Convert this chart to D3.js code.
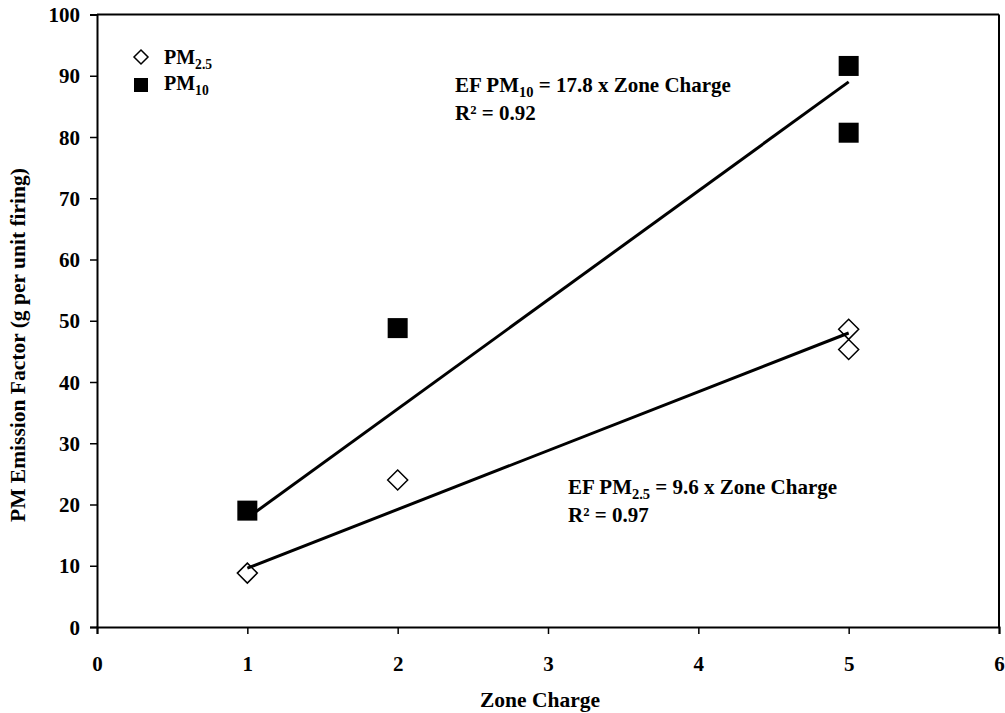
<!DOCTYPE html>
<html>
<head>
<meta charset="utf-8">
<script src="https://cdn.jsdelivr.net/npm/d3@7"></script>
<style>
  html, body { margin: 0; padding: 0; background: #fff; }
  svg text { font-family: "Liberation Serif", "Times New Roman", serif; font-weight: bold; fill: #000; }
</style>
</head>
<body>
<svg id="chart" width="1005" height="713"></svg>
<script>
// ---- data ----
const zoneCharge = [1, 2, 5, 5];
const pm25 = [8.8, 24.0, 48.6, 45.3];
const pm10 = [19.0, 48.8, 91.6, 80.7];
const fitSlopes = { pm10: 17.8, pm25: 9.6 };
const fitRange = [1, 5];
const xTicks = [0, 1, 2, 3, 4, 5, 6];
const yTicks = [0, 10, 20, 30, 40, 50, 60, 70, 80, 90, 100];
const xTitle = "Zone Charge";
const yTitle = "PM Emission Factor (g per unit firing)";

const svg = d3.select("#chart");
const L = 97, R = 999, T = 14.5, B = 627;
const x = d3.scaleLinear().domain([0, 6]).range([L, R]);
const y = d3.scaleLinear().domain([0, 100]).range([B, T]);

// frame top/right
svg.append("line").attr("x1", L).attr("x2", R).attr("y1", T).attr("y2", T).attr("stroke", "#000").attr("stroke-width", 2);
svg.append("line").attr("x1", R).attr("x2", R).attr("y1", T).attr("y2", B).attr("stroke", "#000").attr("stroke-width", 2);

const xAxis = svg.append("g").attr("transform", `translate(0,${B})`)
  .call(d3.axisBottom(x).tickValues(xTicks).tickSize(7).tickPadding(22).tickFormat(d3.format("d")));
const yAxis = svg.append("g").attr("transform", `translate(${L},0)`)
  .call(d3.axisLeft(y).tickValues(yTicks).tickSize(7).tickPadding(10).tickFormat(d3.format("d")));
[xAxis, yAxis].forEach(g => {
  g.select(".domain").attr("stroke", "#000").attr("stroke-width", 2);
  g.selectAll(".tick line").attr("stroke", "#000").attr("stroke-width", 1.5);
  g.selectAll(".tick text").style("font-size", "21px").style("font-family", "'Liberation Serif', serif").style("font-weight", "bold").attr("fill", "#000");
});
xAxis.selectAll(".tick text").attr("dy", "0.71em");
yAxis.selectAll(".tick text").attr("dy", "0.34em");

// axis titles
svg.append("text").attr("x", 540).attr("y", 707).attr("text-anchor", "middle").style("font-size", "21.5px").text(xTitle);
svg.append("text").attr("transform", `translate(25,345) rotate(-90)`).attr("text-anchor", "middle").style("font-size", "21.5px").text(yTitle);

// fit lines
const fits = [fitSlopes.pm10, fitSlopes.pm25];
svg.selectAll("line.fit").data(fits).enter().append("line").attr("class", "fit")
  .attr("x1", x(fitRange[0])).attr("y1", s => y(s * fitRange[0]))
  .attr("x2", x(fitRange[1])).attr("y2", s => y(s * fitRange[1]))
  .attr("stroke", "#000").attr("stroke-width", 3);

// points
const pts10 = zoneCharge.map((z, i) => ({ z, v: pm10[i] }));
const pts25 = zoneCharge.map((z, i) => ({ z, v: pm25[i] }));
const sq = 20, dh = 10;
svg.selectAll("rect.pm10").data(pts10).enter().append("rect").attr("class", "pm10")
  .attr("x", d => x(d.z) - sq / 2).attr("y", d => y(d.v) - sq / 2)
  .attr("width", sq).attr("height", sq).attr("fill", "#000");
const diamond = (cx, cy, h) => `M${cx},${cy - h}L${cx + h},${cy}L${cx},${cy + h}L${cx - h},${cy}Z`;
svg.selectAll("path.pm25").data(pts25).enter().append("path").attr("class", "pm25")
  .attr("d", d => diamond(x(d.z), y(d.v), dh))
  .attr("fill", "none").attr("stroke", "#000").attr("stroke-width", 1.5);

// legend
svg.append("path").attr("d", diamond(141, 57, 7)).attr("fill", "#fff").attr("stroke", "#000").attr("stroke-width", 1.5);
svg.append("rect").attr("x", 134).attr("y", 78).attr("width", 14).attr("height", 14).attr("fill", "#000");
function pmLabel(xp, yp, sub, size) {
  const t = svg.append("text").attr("x", xp).attr("y", yp).style("font-size", size + "px");
  t.append("tspan").text("PM");
  t.append("tspan").attr("dy", 5).style("font-size", (size * 0.68) + "px").text(sub);
  return t;
}
pmLabel(164, 64, "2.5", 20);
pmLabel(164, 90, "10", 20);

// equations
function eq(xp, yp, sub, rest, r2) {
  const t = svg.append("text").attr("x", xp).attr("y", yp).style("font-size", "21px");
  t.append("tspan").text("EF PM");
  t.append("tspan").attr("dy", 5).style("font-size", "14.5px").text(sub);
  t.append("tspan").attr("dy", -5).text(rest);
  svg.append("text").attr("x", xp).attr("y", yp + 28).style("font-size", "21px").text(r2);
}
eq(455, 92, "10", " = 17.8 x Zone Charge", "R² = 0.92");
eq(568, 494, "2.5", " = 9.6 x Zone Charge", "R² = 0.97");
</script>
</body>
</html>
